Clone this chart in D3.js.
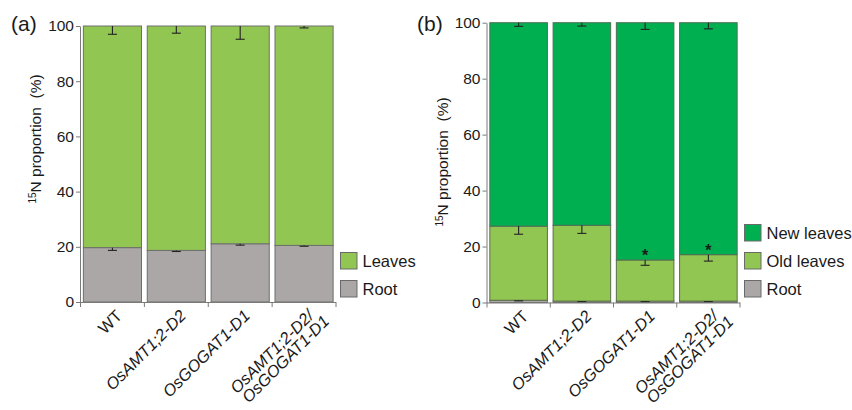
<!DOCTYPE html>
<html><head><meta charset="utf-8">
<script src="https://cdn.jsdelivr.net/npm/d3@7"></script>
<style>
body{margin:0;background:#fff;}
text{font-family:"Liberation Sans",Arial,Helvetica,sans-serif;fill:#1a1a1a;}
</style></head>
<body>
<svg id="c" width="852" height="410"></svg>
<script>
// ---------- data ----------
const categories = ["WT", "OsAMT1;2-D2", "OsGOGAT1-D1", "OsAMT1;2-D2/\nOsGOGAT1-D1"];
const italicCats = [false, true, true, true];
const yTicks = [0, 20, 40, 60, 80, 100];

// panel (a)
const aRoot = [19.7, 18.7, 21.1, 20.5];
const aRootErr = [1.0, 0.4, 0.5, 0.3];
const aLeaves = [80.3, 81.3, 78.9, 79.5];
const aLeavesErr = [3.0, 2.6, 4.8, 0.7];

// panel (b)
const bRoot = [0.8, 0.5, 0.5, 0.5];
const bRootErr = [0.2, 0.2, 0.2, 0.2];
const bOld = [26.5, 27.1, 14.7, 16.6];
const bOldErr = [2.9, 2.9, 1.9, 2.3];
const bNew = [72.7, 72.4, 84.8, 82.9];
const bNewErr = [1.3, 1.2, 2.4, 2.2];
const bSig = [false, false, true, true];

const colors = {root: "#aba7a6", leaves: "#92c652", old: "#92c652", newl: "#00b050"};

const svg = d3.select("#c");

function panel(opt) {
  const g = svg.append("g");
  const y = d3.scaleLinear().domain([0, 100]).range([opt.y0, opt.y1]);
  const x = d3.scaleBand().domain(categories).range([opt.x0, opt.x1])
    .paddingInner(0.09).paddingOuter(0.045);

  const stackData = categories.map((c, i) => {
    const o = {cat: c};
    opt.series.forEach(s => o[s.key] = s.values[i]);
    return o;
  });
  const stack = d3.stack().keys(opt.series.map(s => s.key))(stackData);
  stack.forEach((layer, li) => {
    const s = opt.series[li];
    g.append("g").selectAll("rect").data(layer).join("rect")
      .attr("x", d => x(d.data.cat))
      .attr("width", x.bandwidth())
      .attr("y", d => y(d[1]))
      .attr("height", d => y(d[0]) - y(d[1]))
      .attr("fill", s.color)
      .attr("stroke", s.stroke)
      .attr("stroke-width", 1);
  });
  stack.forEach((layer, li) => {
    const s = opt.series[li];
    layer.forEach((d, i) => {
      const cx = x(d.data.cat) + x.bandwidth() / 2;
      const top = y(d[1]);
      const bot = y(d[1] - s.err[i]);
      const eg = g.append("g").attr("stroke", "#222").attr("stroke-width", 1.1);
      eg.append("line").attr("x1", cx).attr("x2", cx).attr("y1", top).attr("y2", bot);
      eg.append("line").attr("x1", cx - 4.5).attr("x2", cx + 4.5).attr("y1", bot).attr("y2", bot);
    });
  });
  if (opt.sig) {
    const layer = stack[opt.sigLayer];
    layer.forEach((d, i) => {
      if (!opt.sig[i]) return;
      g.append("text").attr("x", x(d.data.cat) + x.bandwidth() / 2)
        .attr("y", y(d[1]) + 1.5).attr("text-anchor", "middle")
        .style("font-size", "16px").style("font-weight", "bold").text("*");
    });
  }

  const ya = g.append("g").attr("transform", `translate(${opt.x0 - 0.5},0)`)
    .call(d3.axisLeft(y).tickValues(yTicks).tickSize(4).tickPadding(2).tickSizeOuter(0));
  ya.select(".domain").attr("stroke", "#7a7a7a");
  ya.selectAll(".tick line").attr("stroke", "#7a7a7a");
  ya.selectAll(".tick text").style("font-size", "15.5px").style("font-family", "Liberation Sans, Arial, sans-serif").attr("fill", "#1a1a1a");

  const xa = g.append("g").attr("stroke", "#7a7a7a").attr("stroke-width", 1);
  xa.append("line").attr("x1", opt.x0 - 0.5).attr("x2", opt.x1).attr("y1", opt.y0 + 0.5).attr("y2", opt.y0 + 0.5);
  const bounds = categories.map(c => x(c) - x.step() * x.paddingInner() / 2);
  bounds.push(x(categories[3]) + x.bandwidth() + x.step() * x.paddingInner() / 2);
  bounds.forEach(b => xa.append("line").attr("x1", b).attr("x2", b).attr("y1", opt.y0).attr("y2", opt.y0 + 5));

  categories.forEach((c, i) => {
    const cx = x(c) + x.bandwidth() / 2;
    const lines = c.split("\n");
    const t = g.append("text")
      .attr("transform", `translate(${cx + 2},${opt.y0 + 6}) rotate(-45)`)
      .attr("text-anchor", "end")
      .style("font-size", "16.5px")
      .style("font-style", italicCats[i] ? "italic" : "normal");
    lines.forEach((ln, j) => {
      t.append("tspan").attr("x", j * 7).attr("y", 0).attr("dy", (0.75 + j * 0.9) + "em").text(ln);
    });
  });

  const yt = g.append("text")
    .attr("transform", `translate(${opt.titleX},${opt.titleY}) rotate(-90)`)
    .attr("text-anchor", "middle").style("font-size", "15.5px");
  yt.append("tspan").attr("baseline-shift", "super").style("font-size", "10px").text("15");
  yt.append("tspan").text("N proportion\u00a0\u00a0(%)");

  g.append("text").attr("x", opt.labX).attr("y", 31).style("font-size", "21px").text(opt.label);

  opt.legend.forEach((L, i) => {
    const ly = opt.legY + i * 28;
    g.append("rect").attr("x", opt.legX).attr("y", ly).attr("width", 16.5).attr("height", 16.5)
      .attr("fill", L.color).attr("stroke", "#6a6a6a").attr("stroke-width", 1);
    g.append("text").attr("x", opt.legX + 22).attr("y", ly + 14.5).style("font-size", "16.5px").text(L.name);
  });
}

panel({
  x0: 80.5, x1: 336, y0: 302, y1: 26,
  series: [
    {key: "root", values: aRoot, err: aRootErr, color: colors.root, stroke: "#6e6e6e"},
    {key: "leaves", values: aLeaves, err: aLeavesErr, color: colors.leaves, stroke: "#6e6e6e"}
  ],
  titleX: 41, titleY: 139, label: "(a)", labX: 11,
  legX: 340.5, legY: 252.5,
  legend: [{name: "Leaves", color: colors.leaves}, {name: "Root", color: colors.root}]
});

panel({
  x0: 487, x1: 740, y0: 302.5, y1: 22.7,
  series: [
    {key: "root", values: bRoot, err: bRootErr, color: colors.root, stroke: "#6e6e6e"},
    {key: "old", values: bOld, err: bOldErr, color: colors.old, stroke: "#5a6e4a"},
    {key: "newl", values: bNew, err: bNewErr, color: colors.newl, stroke: "#4f6e56"}
  ],
  sig: bSig, sigLayer: 1,
  titleX: 448, titleY: 162, label: "(b)", labX: 417,
  legX: 744.5, legY: 224.5,
  legend: [{name: "New leaves", color: colors.newl}, {name: "Old leaves", color: colors.old}, {name: "Root", color: colors.root}]
});
</script>
</body></html>
